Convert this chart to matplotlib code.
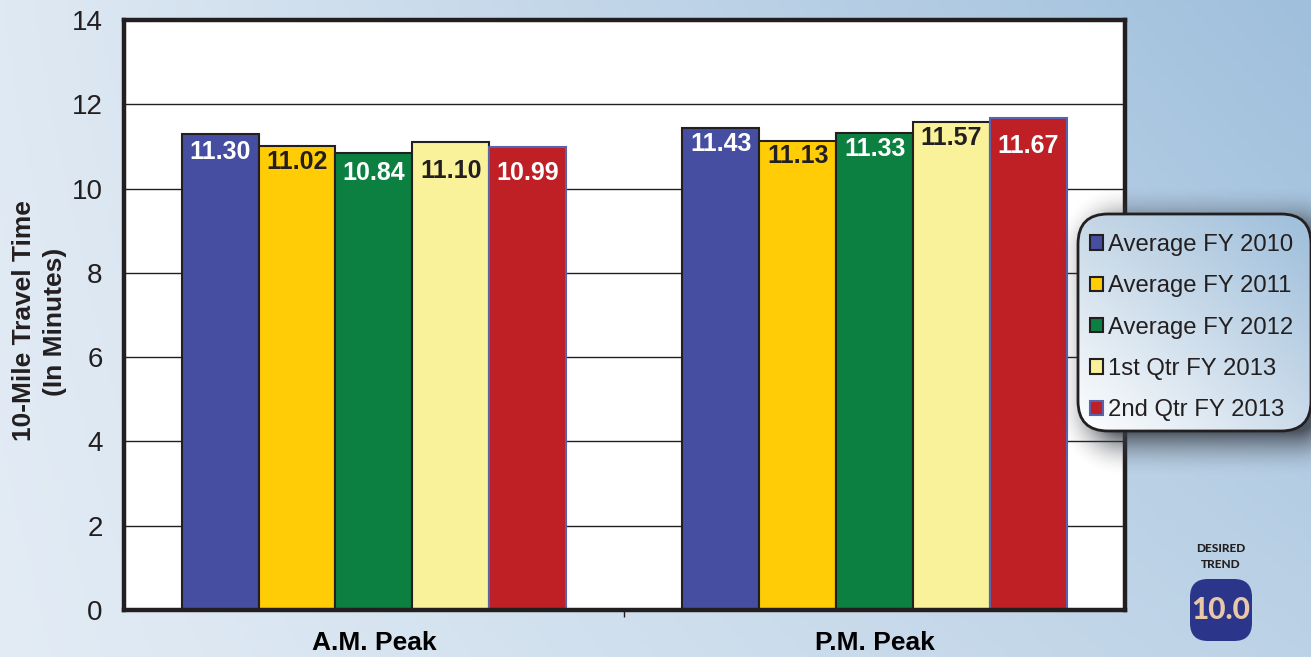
import matplotlib
matplotlib.use('Agg')
import matplotlib.pyplot as plt
from matplotlib.patches import FancyBboxPatch
import numpy as np

periods = ['A.M. Peak', 'P.M. Peak']
series_names = ['Average FY 2010', 'Average FY 2011', 'Average FY 2012',
                '1st Qtr FY 2013', '2nd Qtr FY 2013']
fy2010 = [11.30, 11.43]
fy2011 = [11.02, 11.13]
fy2012 = [10.84, 11.33]
qtr1_2013 = [11.10, 11.57]
qtr2_2013 = [10.99, 11.67]
y_ticks = [0, 2, 4, 6, 8, 10, 12, 14]

WIDTH, HEIGHT = 1311, 657
DARK = '#231f20'

_bar_colors = ['#454ea0', '#ffcc05', '#0b8040', '#faf29a', '#bf2026']
_bar_edges = [DARK, DARK, DARK, DARK, '#5a62ad']
_label_colors = ['white', DARK, 'white', DARK, 'white']
# How far below the top of each bar the value sits, in points
_label_drops = [
    [13, 11.5, 14, 21, 18.5],
    [11, 11, 12, 11, 20],
]

plt.rcParams['font.family'] = ['Liberation Sans', 'DejaVu Sans']
plt.rcParams['text.color'] = DARK


def _hex(colour):
    return np.array(matplotlib.colors.to_rgb(colour))


def _corner_gradient(top_left, top_right, bottom_left, bottom_right, rows=200, cols=300):
    # Blend four corner colours across an image
    v, u = np.mgrid[0:1:rows * 1j, 0:1:cols * 1j]
    u = u[..., None]
    v = v[..., None]
    top = _hex(top_left) * (1 - u) + _hex(top_right) * u
    bottom = _hex(bottom_left) * (1 - u) + _hex(bottom_right) * u
    return top * (1 - v) + bottom * v


def _draw_background(fig):
    ax = fig.add_axes([0, 0, 1, 1], zorder=0)
    ax.imshow(_corner_gradient('#dfe9f3', '#9fbfdc', '#e3ecf5', '#bcd2e6'),
              aspect='auto', extent=(0, WIDTH, HEIGHT, 0))
    ax.axis('off')


def _draw_bars(fig):
    ax = fig.add_axes([123.5 / WIDTH, 1 - 610 / HEIGHT, 1001.5 / WIDTH, 590 / HEIGHT], zorder=1)
    bar_width = 0.1535
    all_series = [fy2010, fy2011, fy2012, qtr1_2013, qtr2_2013]
    x = np.arange(len(periods))
    containers = []
    for i, values in enumerate(all_series):
        bars = ax.bar(x + (i - 2) * bar_width, values, bar_width, color=_bar_colors[i],
                      edgecolor=_bar_edges[i], linewidth=1.5, label=series_names[i])
        containers.append(bars)
        for j, bar in enumerate(bars):
            ax.annotate(f'{values[j]:.2f}', (bar.get_x() + bar.get_width() / 2, values[j]),
                        xytext=(0, -_label_drops[j][i]), textcoords='offset points',
                        ha='center', va='center', fontsize=18, fontweight='bold',
                        color=_label_colors[i])

    ax.set_xlim(-0.5, 1.5)
    ax.set_ylim(0, 14)
    ax.set_yticks(y_ticks)
    ax.set_xticks(x)
    ax.set_xticklabels(periods, fontsize=19, fontweight='bold')
    ax.set_xticks([0.5], minor=True)
    ax.tick_params(axis='x', which='major', length=0, pad=15)
    ax.tick_params(axis='x', which='minor', length=5, width=1, color=DARK)
    ax.tick_params(axis='y', length=0, pad=15, labelsize=20, labelcolor=DARK)
    ax.set_axisbelow(True)
    ax.grid(axis='y', color=DARK, linewidth=1)
    for spine in ax.spines.values():
        spine.set_linewidth(3.2)
        spine.set_color(DARK)

    fig.text(24 / WIDTH, 1 - 321 / HEIGHT, '10-Mile Travel Time', rotation=90,
             ha='center', va='center', fontsize=19, fontweight='bold')
    fig.text(55 / WIDTH, 1 - 322 / HEIGHT, '(In Minutes)', rotation=90,
             ha='center', va='center', fontsize=19, fontweight='bold')
    return containers


def _draw_legend_box(ax):
    left, top, right, bottom = 1078, 214, 1311, 431
    radius = 30

    # Soft shadow dropping out of the lower edge of the box
    yy, xx = np.mgrid[0:HEIGHT, 0:WIDTH]
    cx, cy = (left + right) / 2 + 14, (top + bottom) / 2 + 8
    qx = np.abs(xx - cx) - ((right - left) / 2 - radius)
    qy = np.abs(yy - cy) - ((bottom - top) / 2 - radius)
    dist = np.hypot(np.maximum(qx, 0), np.maximum(qy, 0)) + np.minimum(np.maximum(qx, qy), 0) - radius
    shadow = np.zeros((HEIGHT, WIDTH, 4))
    shadow[..., :3] = _hex('#3a3f48')
    shadow[..., 3] = 0.85 * np.clip(1 - (dist + 8) / 46, 0, 1) ** 2
    ax.imshow(shadow, aspect='auto', extent=(0, WIDTH, HEIGHT, 0), zorder=1)

    box = FancyBboxPatch((left + radius, top + radius), right - left - 2 * radius,
                         bottom - top - 2 * radius, boxstyle=f'round,pad={radius}',
                         facecolor='none', edgecolor=DARK, linewidth=2, zorder=3)
    ax.add_patch(box)
    fill = ax.imshow(_corner_gradient('#c5d7e6', '#9dbedb', '#ffffff', '#cbdbea'), aspect='auto',
                     extent=(left, right, bottom, top), zorder=2)
    fill.set_clip_path(box)


def _draw_desired_trend(ax):
    ax.text(1221, 549, 'DESIRED', ha='center', va='center', fontsize=8.6,
            fontweight=900, family=['Lato', 'DejaVu Sans'], zorder=5)
    ax.text(1221, 565, 'TREND', ha='center', va='center', fontsize=8.6,
            fontweight=900, family=['Lato', 'DejaVu Sans'], zorder=5)
    radius = 18
    ax.add_patch(FancyBboxPatch((1190 + radius, 579 + radius), 62 - 2 * radius, 62 - 2 * radius,
                                boxstyle=f'round,pad={radius}', facecolor='#2b3589',
                                edgecolor='none', zorder=4))
    ax.text(1221, 610, '10.0', ha='center', va='center', fontsize=21.5, fontweight=900,
            family=['Lato', 'DejaVu Sans'], color='#e8c8a8', zorder=5)


def main():
    fig = plt.figure(figsize=(WIDTH / 100, HEIGHT / 100), dpi=100)
    _draw_background(fig)
    containers = _draw_bars(fig)

    # Everything that lies over the plot goes on an overlay in pixel coordinates
    overlay = fig.add_axes([0, 0, 1, 1], zorder=2)
    overlay.patch.set_alpha(0)
    _draw_legend_box(overlay)
    _draw_desired_trend(overlay)
    overlay.set_xlim(0, WIDTH)
    overlay.set_ylim(HEIGHT, 0)
    overlay.axis('off')

    legend = overlay.legend(containers, series_names, loc='upper left',
                            bbox_to_anchor=(1090 / WIDTH, 1 - 234 / HEIGHT),
                            bbox_transform=fig.transFigure, frameon=False, fontsize=17.2,
                            borderpad=0, borderaxespad=0, labelspacing=0.81,
                            handlelength=0.55, handleheight=0.55, handletextpad=0.2)
    legend.set_zorder(6)

    fig.savefig('out.png', dpi=100)


if __name__ == '__main__':
    main()
